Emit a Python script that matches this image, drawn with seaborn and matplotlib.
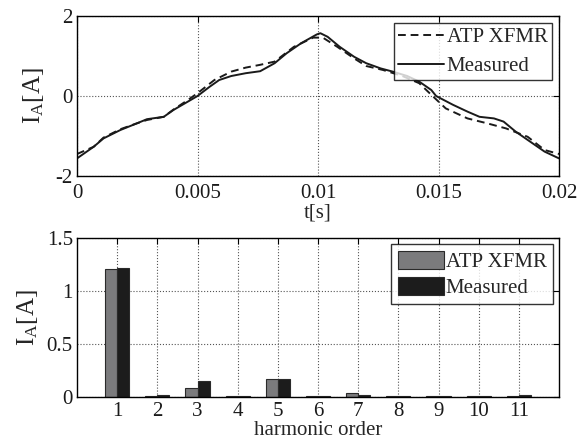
import numpy as np
import pandas as pd
import matplotlib
matplotlib.use("Agg")
import matplotlib.pyplot as plt
import seaborn as sns

sns.set_theme(style="white")
plt.rcParams['font.family'] = ['Liberation Serif', 'DejaVu Serif']
plt.rcParams['mathtext.fontset'] = 'custom'
plt.rcParams['mathtext.rm'] = 'Liberation Serif'
plt.rcParams['mathtext.it'] = 'Liberation Serif'
plt.rcParams['xtick.direction'] = 'in'
plt.rcParams['ytick.direction'] = 'in'
plt.rcParams['axes.unicode_minus'] = False

# top panel: waveform
t_meas = [0.0, 0.00069, 0.0011, 0.0018, 0.0025, 0.0029, 0.0036, 0.004, 0.0046, 0.005,
          0.0055, 0.0059, 0.0064, 0.007, 0.0076, 0.0082, 0.0087, 0.0093, 0.00995, 0.0101,
          0.0104, 0.0109, 0.0115, 0.012, 0.0126, 0.0131, 0.0137, 0.0142, 0.0147, 0.0149,
          0.0156, 0.0162, 0.0167, 0.0173, 0.0177, 0.0182, 0.0188, 0.0194, 0.02]
i_meas = [-1.56, -1.27, -1.06, -0.85, -0.68, -0.58, -0.52, -0.35, -0.14, 0.0,
          0.23, 0.4, 0.5, 0.57, 0.62, 0.82, 1.07, 1.32, 1.54, 1.57,
          1.48, 1.23, 0.98, 0.82, 0.69, 0.61, 0.5, 0.36, 0.15, 0.0,
          -0.22, -0.39, -0.52, -0.56, -0.64, -0.89, -1.14, -1.39, -1.56]

t_atp = [0.0, 0.00069, 0.0011, 0.0018, 0.0025, 0.0029, 0.0036, 0.004, 0.0046, 0.005,
         0.0057, 0.0064, 0.007, 0.0076, 0.0082, 0.009, 0.0098, 0.0102, 0.0108, 0.0115,
         0.012, 0.0127, 0.0135, 0.0142, 0.0147, 0.0153, 0.0162, 0.017, 0.0178, 0.0187,
         0.0194, 0.02]
i_atp = [-1.45, -1.27, -1.04, -0.83, -0.68, -0.6, -0.52, -0.34, -0.1, 0.07,
         0.4, 0.61, 0.71, 0.78, 0.86, 1.23, 1.46, 1.46, 1.23, 0.94,
         0.75, 0.65, 0.5, 0.32, 0.03, -0.31, -0.56, -0.68, -0.81, -1.02,
         -1.35, -1.45]

# bottom panel: harmonic magnitudes
orders = [1, 2, 3, 4, 5, 6, 7, 8, 9, 10, 11]
harm_atp = [1.21, 0.005, 0.08, 0.005, 0.165, 0.005, 0.04, 0.005, 0.005, 0.005, 0.005]
harm_meas = [1.22, 0.015, 0.155, 0.01, 0.165, 0.01, 0.02, 0.008, 0.008, 0.008, 0.015]

FS = 15
LFS = 18

fig = plt.figure(figsize=(5.79, 4.45), dpi=100)
ax1 = fig.add_axes([0.133, 0.6045, 0.8325, 0.3595])
ax2 = fig.add_axes([0.133, 0.108, 0.8325, 0.357])

df_wave = pd.concat([
    pd.DataFrame({'t': t_atp, 'I': i_atp, 'series': 'ATP XFMR'}),
    pd.DataFrame({'t': t_meas, 'I': i_meas, 'series': 'Measured'}),
])
sns.lineplot(data=df_wave, x='t', y='I', hue='series', style='series',
             palette={'ATP XFMR': '#1a1a1a', 'Measured': '#1a1a1a'},
             dashes={'ATP XFMR': (4, 2.5), 'Measured': ''},
             linewidth=1.4, ax=ax1, sort=False)
ax1.set_xlim(0, 0.02)
ax1.set_ylim(-2, 2)
ax1.set_xticks([0, 0.005, 0.01, 0.015, 0.02])
ax1.set_xticklabels(['0', '0.005', '0.01', '0.015', '0.02'])
ax1.set_yticks([-2, 0, 2])
ax1.set_xlabel('t[s]', fontsize=FS, labelpad=0)
ax1.set_ylabel('I$_{\\mathrm{A}}$[A]', fontsize=LFS, labelpad=7)
leg1 = ax1.legend(loc='upper right', fontsize=FS, frameon=True, fancybox=False,
                  edgecolor='black', handlelength=2.2, borderaxespad=0.35,
                  borderpad=0.2, labelspacing=0.45, handletextpad=0.15)
leg1.get_frame().set_linewidth(1.0)
leg1.set_title(None)

df_harm = pd.concat([
    pd.DataFrame({'order': orders, 'I': harm_atp, 'series': 'ATP XFMR'}),
    pd.DataFrame({'order': orders, 'I': harm_meas, 'series': 'Measured'}),
])
sns.barplot(data=df_harm, x='order', y='I', hue='series',
            palette={'ATP XFMR': '#7b7b7d', 'Measured': '#1c1c1c'},
            width=0.6, gap=0, edgecolor='#2a2a2a', linewidth=0.8,
            saturation=1, ax=ax2)
ax2.set_xlim(-1, 11)
ax2.set_ylim(0, 1.5)
ax2.set_yticks([0, 0.5, 1, 1.5])
ax2.set_yticklabels(['0', '0.5', '1', '1.5'])
ax2.set_xlabel('harmonic order', fontsize=FS, labelpad=0)
ax2.set_ylabel('I$_{\\mathrm{A}}$[A]', fontsize=LFS, labelpad=5)
leg2 = ax2.legend(loc='upper right', fontsize=FS, frameon=True, fancybox=False,
                  edgecolor='black', handlelength=2.2, handleheight=0.95,
                  borderaxespad=0.3, borderpad=0.3, labelspacing=0.25,
                  handletextpad=0.1)
leg2.get_frame().set_linewidth(1.0)
leg2.set_title(None)

for ax in (ax1, ax2):
    ax.grid(True, linestyle=':', color='#555555', linewidth=0.8)
    ax.set_axisbelow(True)
    ax.tick_params(labelsize=FS, top=True, right=True, length=4, width=0.8,
                   color='black')
    ax.tick_params(axis='y', pad=3)
    for s in ax.spines.values():
        s.set_color('black')
        s.set_linewidth(1.0)
    for lbl in ax.get_xticklabels() + ax.get_yticklabels():
        lbl.set_color('#1a1a1a')
ax1.tick_params(axis='x', pad=6)
ax2.tick_params(axis='x', pad=4)

fig.savefig('out.png', dpi=100)
